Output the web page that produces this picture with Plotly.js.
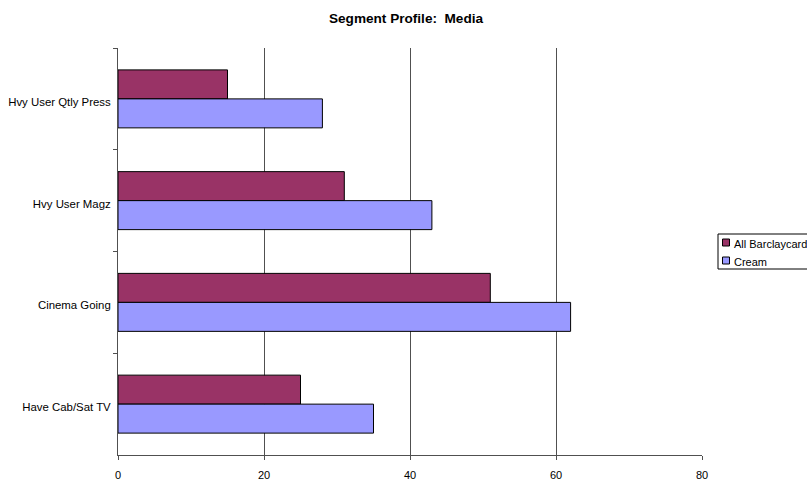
<!DOCTYPE html>
<html>
<head>
<meta charset="utf-8">
<script src="https://cdn.plot.ly/plotly-3.0.1.min.js"></script>
<style>
  html, body { margin: 0; padding: 0; background: #fff; }
  #chart { width: 807px; height: 482px; }
</style>
</head>
<body>
<div id="chart"></div>
<script>
// Media profile categories, listed top to bottom
const categories = ['Hvy User Qtly Press', 'Hvy User Magz', 'Cinema Going', 'Have Cab/Sat TV'];
const seriesNames = ['All Barclaycard', 'Cream'];
const allBarclaycard = [15, 31, 51, 25];
const cream = [28, 43, 62, 35];
const xTicks = [0, 20, 40, 60, 80];

const colors = ['#993366', '#9999FF'];
const barLine = { color: '#000000', width: 1 };

const W = 807, H = 482;
const M = { l: 118, r: 105, t: 48, b: 27 };
const plotW = W - M.l - M.r, plotH = H - M.t - M.b;
// pixel position -> paper coordinates (used for the legend box)
const px = v => (v - M.l) / plotW;
const py = v => (H - M.b - v) / plotH;

const traces = [
  {
    type: 'bar', orientation: 'h', name: seriesNames[0],
    y: categories, x: allBarclaycard,
    marker: { color: colors[0], line: barLine }
  },
  {
    type: 'bar', orientation: 'h', name: seriesNames[1],
    y: categories, x: cream,
    marker: { color: colors[1], line: barLine }
  }
];

// Legend: framed box with small swatches, running off the right edge
const shapes = [
  { type: 'rect', xref: 'paper', yref: 'paper', x0: px(718), x1: px(820), y0: py(269), y1: py(234),
    line: { color: '#000000', width: 1 }, fillcolor: '#ffffff', layer: 'above' }
];
const annotations = [];
const rowY = [242.5, 260.5];
seriesNames.forEach((name, i) => {
  shapes.push({ type: 'rect', xref: 'paper', yref: 'paper',
    x0: px(722.5), x1: px(729.5), y0: py(rowY[i] + 3.5), y1: py(rowY[i] - 3.5),
    line: { color: '#000000', width: 1 }, fillcolor: colors[i], layer: 'above' });
  annotations.push({ xref: 'paper', yref: 'paper', x: px(732), y: py(rowY[i] + 1.5),
    xanchor: 'left', yanchor: 'middle', text: name, showarrow: false,
    font: { size: 11, color: '#000000' } });
});

const layout = {
  width: W, height: H,
  paper_bgcolor: '#ffffff', plot_bgcolor: '#ffffff',
  font: { family: 'Liberation Sans, Arial, sans-serif', size: 11, color: '#000000' },
  margin: { l: M.l, r: M.r, t: M.t, b: M.b, autoexpand: false },
  title: {
    text: '<b>Segment Profile:  Media</b>',
    font: { size: 13.6, color: '#000000' },
    x: 406 / W, xref: 'container', xanchor: 'center',
    y: 1 - 18 / H, yanchor: 'middle'
  },
  barmode: 'group', bargap: 0.43, bargroupgap: 0,
  showlegend: false,
  shapes: shapes,
  annotations: annotations,
  xaxis: {
    range: [0, 80], tickvals: xTicks, ticktext: xTicks.map(String),
    showgrid: true, gridcolor: '#505050', gridwidth: 1,
    showline: true, linecolor: '#505050', linewidth: 1,
    ticks: 'outside', ticklen: 4, tickcolor: '#505050',
    ticklabelstandoff: 6,
    zeroline: false, fixedrange: true,
    tickfont: { size: 11 }
  },
  yaxis: {
    type: 'category', autorange: 'reversed',
    showline: true, linecolor: '#505050', linewidth: 1,
    ticks: 'outside', tickson: 'boundaries', ticklen: 4, tickcolor: '#505050',
    showgrid: false, zeroline: false, fixedrange: true,
    ticklabelstandoff: 4, ticklabelshift: -3,
    tickfont: { size: 11.4 }
  }
};

Plotly.newPlot('chart', traces, layout, { displayModeBar: false, staticPlot: true });
</script>
</body>
</html>
